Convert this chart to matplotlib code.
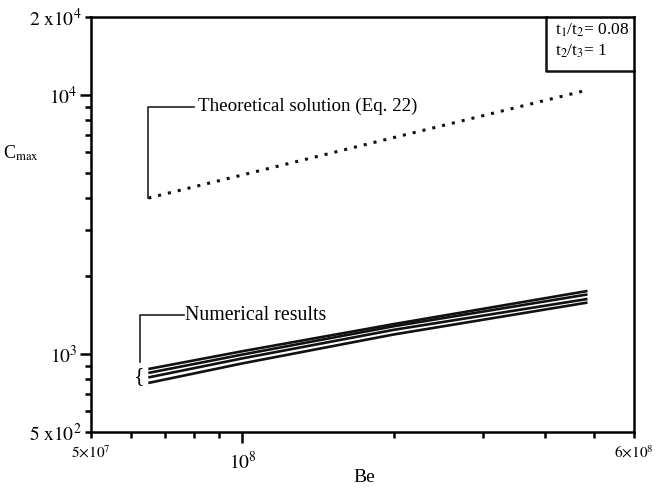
import matplotlib.pyplot as plt
import matplotlib.ticker as mticker
import numpy as np

plt.rcParams['font.family'] = ['Liberation Serif', 'DejaVu Serif']
plt.rcParams['mathtext.fontset'] = 'stix'

# data
be_num = [6.5e7, 1.0e8, 2.0e8, 4.85e8]
c_num1 = [875, 1025, 1305, 1751]
c_num2 = [845, 995, 1280, 1698]
c_num3 = [812, 962, 1240, 1631]
c_num4 = [773, 920, 1190, 1580]

be_theory = [6.5e7, 1.0e8, 2.0e8, 4.85e8]
c_theory = [4000, 4912, 6850, 10450]

fig = plt.figure(figsize=(6.58, 4.88), dpi=100)
ax = fig.add_axes([0.1383, 0.1148, 0.8252, 0.8504])

for c in (c_num1, c_num2, c_num3, c_num4):
    ax.plot(be_num, c, color='#111111', lw=1.9, solid_capstyle='butt')
ax.plot(be_theory, c_theory, color='#111111', lw=2.2, linestyle=(0, (1, 2.3)))

ax.set_xscale('log')
ax.set_yscale('log')
ax.set_xlim(5e7, 6e8)
ax.set_ylim(500, 2e4)

# y ticks
ax.yaxis.set_major_locator(mticker.FixedLocator([1e3, 1e4]))
ax.yaxis.set_major_formatter(mticker.FixedFormatter([r'$10^3$', r'$10^4$']))
ymin = [500, 600, 700, 800, 900] + [k * 1000 for k in range(2, 10)] + [20000]
ymin_lab = [r'$5\ \mathrm{x}10^2$'] + [''] * 12 + [r'$2\ \mathrm{x}10^4$']
ax.yaxis.set_minor_locator(mticker.FixedLocator(ymin))
ax.yaxis.set_minor_formatter(mticker.FixedFormatter(ymin_lab))

# x ticks
ax.xaxis.set_major_locator(mticker.FixedLocator([1e8]))
ax.xaxis.set_major_formatter(mticker.FixedFormatter([r'$10^8$']))
xmin = [5e7, 6e7, 7e7, 8e7, 9e7, 2e8, 3e8, 4e8, 5e8, 6e8]
xmin_lab = [r'$5{\times}10^7$'] + [''] * 8 + [r'$6{\times}10^8$']
ax.xaxis.set_minor_locator(mticker.FixedLocator(xmin))
ax.xaxis.set_minor_formatter(mticker.FixedFormatter(xmin_lab))

ax.tick_params(which='major', direction='out', length=8, width=1.8, labelsize=14, pad=2)
ax.tick_params(which='minor', direction='out', length=4.5, width=1.8, pad=2)
ax.tick_params(axis='y', which='minor', labelsize=14)
ax.tick_params(axis='x', which='minor', labelsize=11, pad=4)
ax.tick_params(axis='x', which='major', pad=6)
for s in ax.spines.values():
    s.set_linewidth(1.8)

ax.set_xlabel('Be', fontsize=14, va='center')
ax.xaxis.set_label_coords(0.503, -0.109)
ax.set_ylabel(r'C$_{\mathrm{max}}$', fontsize=13, rotation=0, va='center')
ax.yaxis.set_label_coords(-0.13, 0.672)

# annotation brackets
ax.plot([be_theory[0], be_theory[0], 8.0e7], [c_theory[0], 9000, 9000],
        color='#222222', lw=1.2)
ax.text(8.15e7, 9000, 'Theoretical solution (Eq. 22)', fontsize=13.7, va='center', ha='left')

ax.plot([6.25e7, 6.25e7, 7.65e7], [930, 1414, 1414], color='#222222', lw=1.2)
ax.text(7.7e7, 1414, 'Numerical results', fontsize=14.3, va='center', ha='left')
ax.text(6.25e7, 815, '{', fontsize=16, va='center', ha='center')

# parameter box
ax.text(0.855, 0.99, r't$_1$/t$_2$= 0.08' + '\n' + r't$_2$/t$_3$= 1',
        transform=ax.transAxes, fontsize=12.5, va='top', ha='left', linespacing=1.35)
ax.plot([0.838, 0.838, 1.0], [1.0, 0.87, 0.87], transform=ax.transAxes,
        color='#111111', lw=1.8, clip_on=False)

fig.savefig('out.png', dpi=100)
